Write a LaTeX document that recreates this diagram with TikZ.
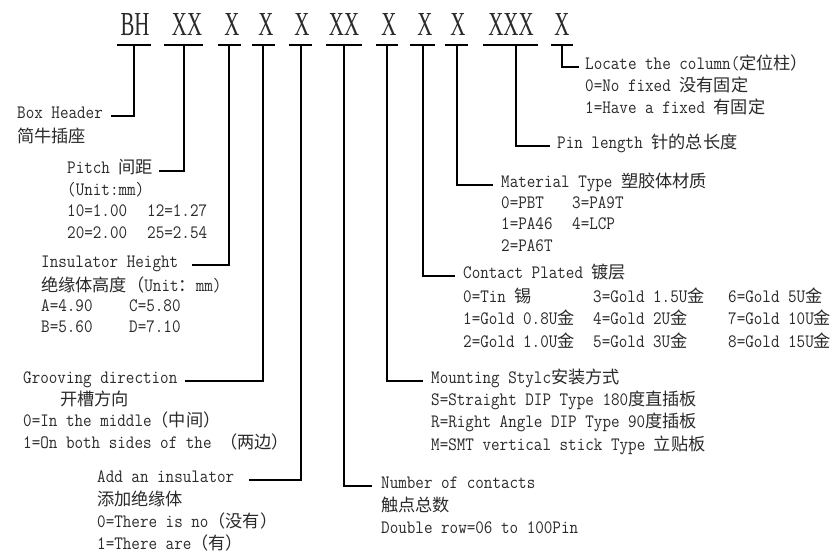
\documentclass[tikz,border=0pt]{standalone}
\usepackage{fontspec}
\usepackage{graphicx}
\setmainfont{Liberation Serif}
\setmonofont{Latin Modern Mono}[FakeStretch=0.88]
\newfontfamily\zhfont{Noto Sans CJK SC}[Scale=0.91]
\newcommand\zh[1]{{\zhfont #1}}
\newcommand\lblfont{\fontsize{18.9}{22}\selectfont\ttfamily}
\newcommand\codetextfont{\fontsize{33.6}{34}\selectfont\rmfamily}
\newcommand\cx[1]{\scalebox{0.62}[1]{#1}}
\definecolor{txt}{HTML}{2A2A2A}
\tikzset{
  lbl/.style={anchor=mid west, inner sep=0pt, text=txt, font=\lblfont},
  code/.style={anchor=base, inner sep=0pt, text=txt, font=\codetextfont},
  conn/.style={line width=1.6pt, draw=black},
  bar/.style={line width=1.3pt, draw=black},
}
\begin{document}
\begin{tikzpicture}[x=1pt, y=-1pt]
\useasboundingbox[fill=white] (0,0) rectangle (834,557);

% code letters
\foreach \i/\x/\t in {1/135/BH, 2/187/XX, 3/232/X, 4/266/X, 5/302/X, 6/344/XX, 7/389/X, 8/425/X, 9/458/X, 10/511/XXX, 11/562/X}
  \node[code] (c\i) at (\x,35) {\cx{\t}};

% bars and tops of the drop lines
\foreach \i/\l/\r/\v in {1/117/151/134, 2/164/203/184, 3/218/241/229, 4/252/275/263, 5/289/312/301, 6/326/362/344, 7/376/398/387, 8/410/435/423, 9/445/468/457, 10/483/538/516, 11/551/573/562}
{
  \draw[bar] (\l,45) -- (\r,45);
  \coordinate (t\i) at (\v,45);
}

% ---------- left labels ----------
\node[lbl] (bh)  at (17,116) {Box Header};
\node[lbl] (bhz) at (17,140) {\zh{简牛插座}};

\node[lbl] (pitch) at (67,171) {Pitch \zh{间距}};
\node[lbl] (pu)  at (67,193) {(Unit:mm)};
\node[lbl] (p10) at (67,214) {10=1.00};
\node[lbl] (p12) at (147,214) {12=1.27};
\node[lbl] (p20) at (67,236) {20=2.00};
\node[lbl] (p25) at (147,236) {25=2.54};

\node[lbl] (ins)  at (41,265) {Insulator Height};
\node[lbl] (insz) at (41,289) {\zh{绝缘体高度（}Unit\zh{：}mm)};
\node[lbl] (ia) at (41,309) {A=4.90};
\node[lbl] (ic) at (129,309) {C=5.80};
\node[lbl] (ib) at (41,330) {B=5.60};
\node[lbl] (id) at (129,330) {D=7.10};

\node[lbl] (gr)  at (23,381) {Grooving direction};
\node[lbl] (grz) at (60,403) {\zh{开槽方向}};
\node[lbl] (gr0) at (23,424) {0=In the middle\zh{（中间）}};
\node[lbl] (gr1) at (23,446) {1=On both sides of the \zh{（两边）}};

\node[lbl] (add)  at (97,480) {Add an insulator};
\node[lbl] (addz) at (97,503) {\zh{添加绝缘体}};
\node[lbl] (add0) at (97,525) {0=There is no\zh{（没有）}};
\node[lbl] (add1) at (97,547) {1=There are\zh{（有）}};

% ---------- right labels ----------
\node[lbl] (num)  at (381,486) {Number of contacts};
\node[lbl] (numz) at (381,509) {\zh{触点总数}};
\node[lbl] (dbl)  at (381,531) {Double row=06 to 100Pin};

\node[lbl] (mnt)  at (431,381) {Mounting Stylc\zh{安装方式}};
\node[lbl] (mS)   at (431,403) {S=Straight DIP Type 180\zh{度直插板}};
\node[lbl] (mR)   at (431,425) {R=Right Angle DIP Type 90\zh{度插板}};
\node[lbl] (mM)   at (431,448) {M=SMT vertical stick Type \zh{立贴板}};

\node[lbl] (pl)  at (463,276) {Contact Plated \zh{镀层}};
\node[lbl] (pl0) at (463,300) {0=Tin \zh{锡}};
\node[lbl] (pl1) at (463,322) {1=Gold 0.8U\zh{金}};
\node[lbl] (pl2) at (463,345) {2=Gold 1.0U\zh{金}};
\node[lbl] (pl3) at (593,300) {3=Gold 1.5U\zh{金}};
\node[lbl] (pl4) at (593,322) {4=Gold 2U\zh{金}};
\node[lbl] (pl5) at (593,345) {5=Gold 3U\zh{金}};
\node[lbl] (pl6) at (728,300) {6=Gold 5U\zh{金}};
\node[lbl] (pl7) at (728,322) {7=Gold 10U\zh{金}};
\node[lbl] (pl8) at (728,345) {8=Gold 15U\zh{金}};

\node[lbl] (mat)  at (501,185) {Material Type \zh{塑胶体材质}};
\node[lbl] (mat0) at (501,206) {0=PBT};
\node[lbl] (mat3) at (572,206) {3=PA9T};
\node[lbl] (mat1) at (501,227) {1=PA46};
\node[lbl] (mat4) at (572,227) {4=LCP};
\node[lbl] (mat2) at (501,249) {2=PA6T};

\node[lbl] (pin) at (557,146) {Pin length \zh{针的总长度}};

\node[lbl] (loc)  at (585,67) {Locate the column(\zh{定位柱）}};
\node[lbl] (loc0) at (585,89) {0=No fixed \zh{没有固定}};
\node[lbl] (loc1) at (585,111) {1=Have a fixed \zh{有固定}};

% ---------- connectors ----------
\draw[conn] (t1)  |- ([xshift=8pt]bh.mid east);
\draw[conn] (t2)  |- ([xshift=6pt]pitch.mid east);
\draw[conn] (t3)  |- ([xshift=14pt]ins.mid east);
\draw[conn] (t4)  |- ([xshift=7pt]gr.mid east);
\draw[conn] (t5)  |- ([xshift=15pt]add.mid east);
\draw[conn] (t6)  |- ([xshift=-9pt]num.mid west);
\draw[conn] (t7)  |- ([xshift=-8pt]mnt.mid west);
\draw[conn] (t8)  |- ([xshift=-8pt]pl.mid west);
\draw[conn] (t9)  |- ([xshift=-8pt]mat.mid west);
\draw[conn] (t10) |- ([xshift=-7pt]pin.mid west);
\draw[conn] (t11) |- ([xshift=-6pt]loc.mid west);
\end{tikzpicture}
\end{document}
